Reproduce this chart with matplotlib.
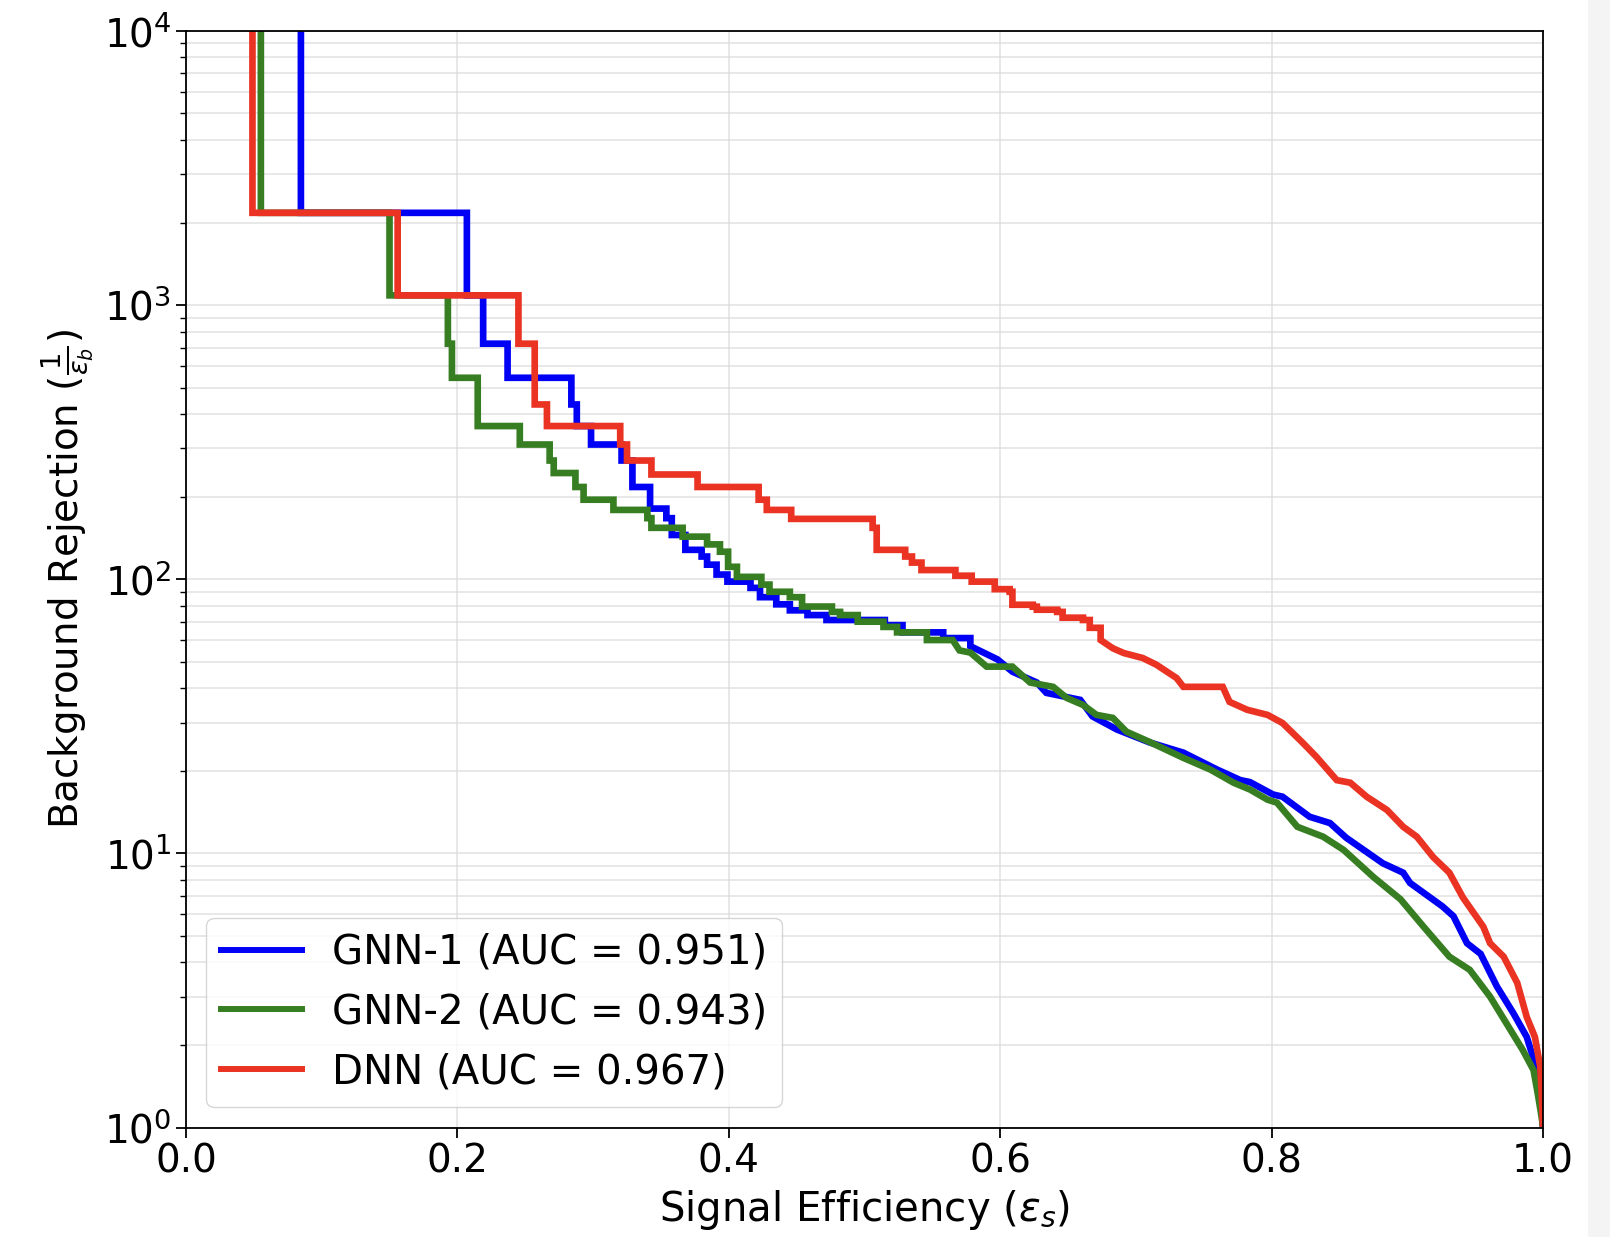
import numpy as np
import matplotlib
matplotlib.use("Agg")
import matplotlib.pyplot as plt
from matplotlib.patches import Rectangle

# ---------------- data ----------------
labels = ["GNN-1 (AUC = 0.951)", "GNN-2 (AUC = 0.943)", "DNN (AUC = 0.967)"]

# staircase part: signal efficiency where the curve drops, rejection after the drop
gnn1_step_eff = [0.0847, 0.207, 0.219, 0.237, 0.284, 0.288, 0.2985, 0.321, 0.329,
                 0.342, 0.354, 0.358, 0.368, 0.380, 0.384, 0.391, 0.399, 0.416,
                 0.423, 0.435, 0.445, 0.458, 0.472, 0.515, 0.528, 0.558]
gnn1_step_rej = [2170, 1085, 723, 543, 434, 362, 310, 271, 217,
                 181, 167, 145, 128, 121, 113, 104, 98, 93,
                 86, 81, 77, 74, 71, 68, 64, 61]
gnn1_tail_eff = [0.578, 0.598, 0.609, 0.627, 0.634, 0.659, 0.668, 0.686, 0.710,
                 0.735, 0.760, 0.777, 0.784, 0.801, 0.808, 0.828, 0.843, 0.855,
                 0.882, 0.897, 0.902, 0.926, 0.934, 0.944, 0.954, 0.966, 0.978,
                 0.988, 0.994, 0.998, 1.0]
gnn1_tail_rej = [57, 51, 46, 42, 38.5, 36.3, 31.6, 28.3, 25.4,
                 23.3, 20.2, 18.5, 18.2, 16.4, 16.1, 13.6, 12.9, 11.4,
                 9.2, 8.5, 7.8, 6.4, 5.9, 4.7, 4.3, 3.27, 2.62,
                 2.14, 1.72, 1.34, 1.0]

gnn2_step_eff = [0.0552, 0.150, 0.193, 0.196, 0.215, 0.246, 0.268, 0.271, 0.287,
                 0.293, 0.315, 0.340, 0.343, 0.366, 0.384, 0.3935, 0.3995, 0.406,
                 0.424, 0.430, 0.445, 0.454, 0.476, 0.482, 0.495, 0.514, 0.524, 0.546]
gnn2_step_rej = [2170, 1085, 723, 543, 362, 310, 271, 244, 217,
                 195, 179, 167, 154, 143, 134, 126, 111, 102,
                 95.6, 90, 86, 79.5, 76, 74, 70, 67, 64, 60]
gnn2_tail_eff = [0.565, 0.570, 0.578, 0.590, 0.609, 0.622, 0.639, 0.649, 0.661,
                 0.671, 0.683, 0.693, 0.710, 0.735, 0.755, 0.772, 0.784, 0.797,
                 0.804, 0.819, 0.838, 0.853, 0.875, 0.895, 0.912, 0.931, 0.946,
                 0.961, 0.973, 0.985, 0.993, 0.996, 0.999, 1.0]
gnn2_tail_rej = [60, 55, 54, 48, 48, 42, 40.5, 36.9, 34.8,
                 32, 31.2, 27.8, 25.5, 22.3, 20.2, 18.1, 17.1, 15.7,
                 15.3, 12.5, 11.5, 10.3, 8.2, 6.8, 5.4, 4.2, 3.76,
                 3.0, 2.4, 1.92, 1.62, 1.34, 1.09, 1.0]

dnn_step_eff = [0.049, 0.156, 0.245, 0.257, 0.266, 0.320, 0.325, 0.343, 0.377,
                0.422, 0.428, 0.446, 0.506, 0.509, 0.530, 0.535, 0.542, 0.567,
                0.579, 0.596, 0.607, 0.609, 0.624, 0.627, 0.642, 0.646, 0.661, 0.666]
dnn_step_rej = [2170, 1085, 723, 434, 362, 310, 271, 241, 217,
                195, 179, 166, 154, 128, 121, 115, 108, 103,
                98, 92, 90, 80.7, 79.4, 77.4, 76, 72.4, 71, 66.5]
dnn_tail_eff = [0.674, 0.683, 0.691, 0.705, 0.715, 0.730, 0.735, 0.764, 0.769,
                0.782, 0.797, 0.808, 0.823, 0.833, 0.848, 0.858, 0.870, 0.885,
                0.897, 0.907, 0.919, 0.931, 0.941, 0.956, 0.961, 0.971, 0.981,
                0.988, 0.994, 0.998, 0.999, 1.0]
dnn_tail_rej = [60, 56, 53.8, 51.6, 48.8, 43.6, 40.5, 40.5, 35.7,
                33.4, 32, 29.9, 25.3, 22.5, 18.5, 18.1, 16.1, 14.4,
                12.5, 11.5, 9.7, 8.5, 6.9, 5.4, 4.7, 4.2, 3.37,
                2.53, 2.14, 1.66, 1.34, 1.0]

x_ticks = [0.0, 0.2, 0.4, 0.6, 0.8, 1.0]
x_ticklabels = ["0.0", "0.2", "0.4", "0.6", "0.8", "1.0"]
colors = ["#0000f5", "#377e22", "#ea3323"]
TOP = 1e6  # rejection is infinite before the first background event passes


def build_curve(step_eff, step_rej, tail_eff, tail_rej):
    xs = [step_eff[0]]
    ys = [TOP]
    for i in range(len(step_eff)):
        xs.append(step_eff[i]); ys.append(step_rej[i])
        nxt = step_eff[i + 1] if i + 1 < len(step_eff) else tail_eff[0]
        xs.append(nxt); ys.append(step_rej[i])
    xs += list(tail_eff)
    ys += list(tail_rej)
    return np.array(xs), np.array(ys)


curves = [
    build_curve(gnn1_step_eff, gnn1_step_rej, gnn1_tail_eff, gnn1_tail_rej),
    build_curve(gnn2_step_eff, gnn2_step_rej, gnn2_tail_eff, gnn2_tail_rej),
    build_curve(dnn_step_eff, dnn_step_rej, dnn_tail_eff, dnn_tail_rej),
]

# ---------------- figure ----------------
plt.rcParams['font.family'] = ['DejaVu Sans']
plt.rcParams['mathtext.fontset'] = 'dejavusans'
fig = plt.figure(figsize=(16.1, 12.37), dpi=100)
fig.patches.append(Rectangle((0.9865, 0), 0.0135, 1, transform=fig.transFigure,
                             facecolor="#f4f4f4", edgecolor="none", zorder=-1))
ax = fig.add_axes([0.1155, 0.0885, 0.8429, 0.8865])

for (xs, ys), c, lab in zip(curves, colors, labels):
    ax.plot(xs, ys, color=c, lw=4.8, label=lab, solid_joinstyle='miter')

ax.set_yscale('log')
ax.set_xlim(0, 1)
ax.set_ylim(1, 1e4)
ax.set_xticks(x_ticks)
ax.set_xticklabels(x_ticklabels)
ax.grid(True, which='major', color='#d9d9d9', lw=1.2, alpha=0.7)
ax.grid(True, which='minor', axis='y', color='#d9d9d9', lw=1.2, alpha=0.7)
ax.tick_params(axis='both', which='major', labelsize=28, length=7, width=1.3)
ax.tick_params(axis='y', which='minor', length=4, width=1.0)
for s in ax.spines.values():
    s.set_linewidth(1.3)

ax.set_xlabel(r"Signal Efficiency ($\varepsilon_s$)", fontsize=29, labelpad=6)
ax.set_ylabel(r"Background Rejection ($\frac{1}{\varepsilon_b}$)", fontsize=28, labelpad=6)

leg = ax.legend(loc='lower left', fontsize=29, handlelength=2.0,
                borderpad=0.37, labelspacing=0.49, handletextpad=0.75,
                borderaxespad=0.0, framealpha=0.8,
                bbox_to_anchor=(0.0151, 0.0187))
for h in leg.get_lines():
    h.set_linewidth(4.3)

fig.savefig("out.png", dpi=100)
